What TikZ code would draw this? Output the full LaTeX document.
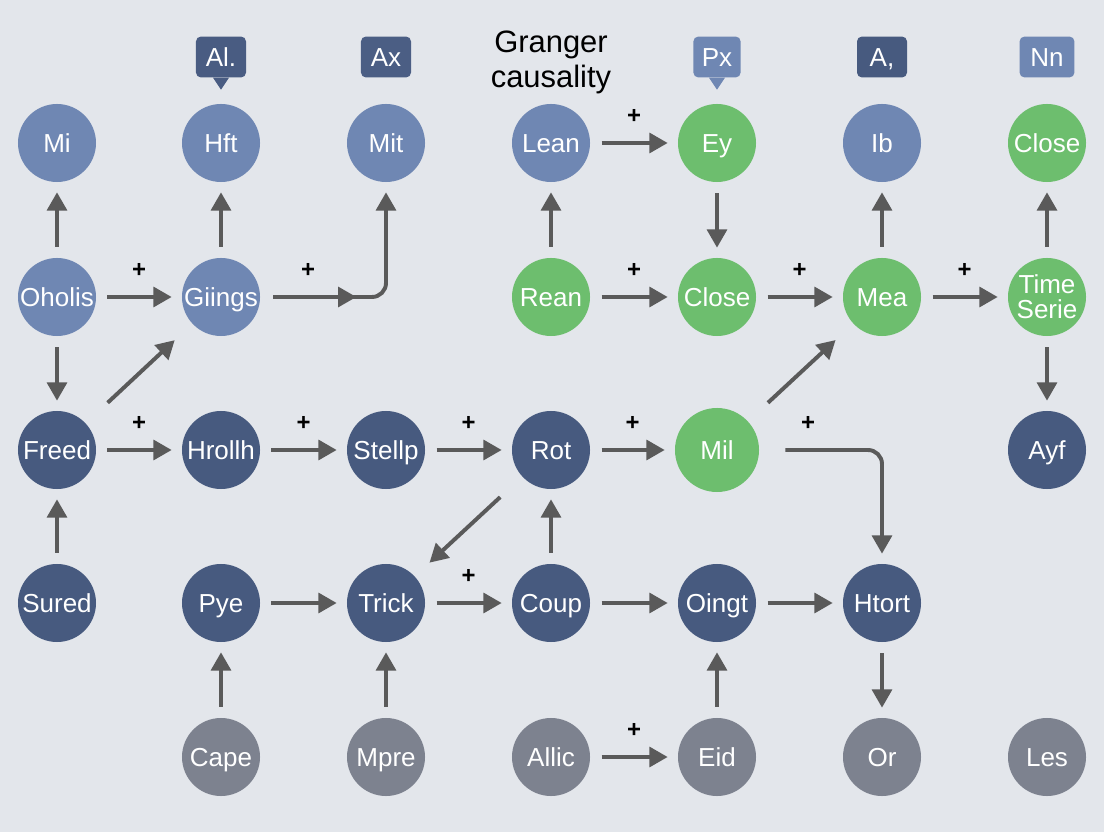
\documentclass[tikz,border=0pt]{standalone}
\usepackage{fontspec}
\setmainfont{Liberation Sans}
\usetikzlibrary{arrows.meta,positioning,decorations.markings}
\definecolor{bgcol}{HTML}{E3E6EB}
\definecolor{lightblue}{HTML}{6F87B3}
\definecolor{navy}{HTML}{475A7F}
\definecolor{leaf}{HTML}{6DBE6E}
\definecolor{stone}{HTML}{7D828F}
\definecolor{arrowgray}{HTML}{5A5A5A}
\tikzset{
  circbase/.style={circle,minimum size=1.95cm,inner sep=0pt,text=white,
    font=\fontsize{18.5}{20}\selectfont},
  circ/.style={circbase,text height=13.2pt,text depth=0pt},
  lightnode/.style={circ,fill=lightblue},
  navynode/.style={circ,fill=navy},
  greennode/.style={circ,fill=leaf},
  graynode/.style={circ,fill=stone},
  tag/.style={rounded corners=0.12cm,minimum width=1.25cm,minimum height=1.02cm,
    inner sep=2pt,text=white,font=\fontsize{18.5}{20}\selectfont,text height=13.2pt,text depth=0pt},
  flow/.style={-{Triangle[length=13pt,width=14pt]},line width=2.8pt,draw=arrowgray,
    shorten <=0.28cm,shorten >=0.25cm},
  diag/.style={flow,shorten <=0.75cm,shorten >=0.6cm},
  plus/.style={font=\fontsize{17}{17}\selectfont\bfseries,text=black,yshift=0.66cm}
}
\begin{document}
\begin{tikzpicture}[x=0.025cm,y=-0.025cm]
\fill[bgcol] (0,0) rectangle (1104,832);
\useasboundingbox (0,0) rectangle (1104,832);

% top labels
\node[tag,fill=navy!95!lightblue] (tagal) at (221,57) {Al.};
\fill[navy!95!lightblue] ([xshift=-0.2cm]tagal.south) -- ([xshift=0.2cm]tagal.south) -- ([yshift=-0.3cm]tagal.south) -- cycle;
\node[tag,fill=navy!90!lightblue] (tagax) at (386,57) {Ax};
\node[font=\fontsize{22}{25}\selectfont,align=center] (title) at (551,62) {Granger\\causality};
\node[tag,fill=lightblue,minimum width=1.18cm] (tagpx) at (717,57) {Px};
\fill[lightblue] ([xshift=-0.2cm]tagpx.south) -- ([xshift=0.2cm]tagpx.south) -- ([yshift=-0.3cm]tagpx.south) -- cycle;
\node[tag,fill=navy] (taga) at (882,57) {A,};
\node[tag,fill=lightblue,minimum width=1.37cm] (tagnn) at (1047,57) {Nn};

% row 1
\node[lightnode] (mi) at (57,143) {Mi};
\node[lightnode] (hft) at (221,143) {Hft};
\node[lightnode] (mit) at (386,143) {Mit};
\node[lightnode] (lean) at (551,143) {Lean};
\node[greennode] (ey) at (717,143) {Ey};
\node[lightnode] (ib) at (882,143) {Ib};
\node[greennode] (closea) at (1047,143) {Close};

% row 2
\node[lightnode] (oholis) at (57,297) {Oholis};
\node[lightnode] (giings) at (221,297) {Giings};
\node[greennode] (rean) at (551,297) {Rean};
\node[greennode] (closeb) at (717,297) {Close};
\node[greennode] (mea) at (882,297) {Mea};
\node[circbase,fill=leaf,align=center] (series) at (1047,297) {Time\\[-2pt]Serie};

% row 3
\node[navynode] (freed) at (57,450) {Freed};
\node[navynode] (hrollh) at (221,450) {Hrollh};
\node[navynode] (stellp) at (386,450) {Stellp};
\node[navynode] (rot) at (551,450) {Rot};
\node[greennode,minimum size=2.1cm] (mil) at (717,450) {Mil};
\node[navynode] (ayf) at (1047,450) {Ayf};

% row 4
\node[navynode] (sured) at (57,603) {Sured};
\node[navynode] (pye) at (221,603) {Pye};
\node[navynode] (trick) at (386,603) {Trick};
\node[navynode] (coup) at (551,603) {Coup};
\node[navynode] (oingt) at (717,603) {Oingt};
\node[navynode] (htort) at (882,603) {Htort};

% row 5
\node[graynode] (cape) at (221,757) {Cape};
\node[graynode] (mpre) at (386,757) {Mpre};
\node[graynode] (allic) at (551,757) {Allic};
\node[graynode] (eid) at (717,757) {Eid};
\node[graynode] (or) at (882,757) {Or};
\node[graynode] (les) at (1047,757) {Les};

% left block
\draw[flow] (oholis) -- (mi);
\draw[flow] (giings) -- (hft);
\draw[flow] (oholis) -- (giings) node[plus,midway] (p1) {+};
\draw[flow,rounded corners=0.35cm,shorten <=0.32cm,postaction={decorate},
  decoration={markings,mark=at position 0.41 with {\arrow{Triangle[length=13pt,width=14pt]}}}]
  (giings.east) -- (giings.east -| mit) -- (mit.south);
\node[plus] (p2) at (308,297) {+};
\draw[flow] (oholis) -- (freed);
\draw[diag] (freed) -- (giings);
\draw[flow] (sured) -- (freed);
\draw[flow] (freed) -- (hrollh) node[plus,midway] (p3) {+};
\draw[flow] (hrollh) -- (stellp) node[plus,midway] (p4) {+};
\draw[flow] (stellp) -- (rot) node[plus,midway] (p5) {+};
\draw[flow] (rot) -- (mil) node[plus,midway] (p6) {+};

% right block
\draw[flow] (lean) -- (ey) node[plus,midway] (p7) {+};
\draw[flow] (rean) -- (lean);
\draw[flow] (ey) -- (closeb);
\draw[flow] (rean) -- (closeb) node[plus,midway] (p8) {+};
\draw[flow] (closeb) -- (mea) node[plus,midway] (p9) {+};
\draw[flow] (mea) -- (ib);
\draw[flow] (mea) -- (series) node[plus,midway] (p10) {+};
\draw[flow] (series) -- (closea);
\draw[flow] (series) -- (ayf);
\draw[diag,shorten <=0.68cm] (mil) -- (mea);
\draw[flow,rounded corners=0.35cm,shorten <=0.65cm] (mil.east) -- (mil.east -| htort) -- (htort.north);
\node[plus] (p11) at (808,450) {+};

% bottom block
\draw[diag,shorten >=0.5cm] (rot) -- (trick);
\draw[flow] (pye) -- (trick);
\draw[flow] (trick) -- (coup) node[plus,midway] (p12) {+};
\draw[flow] (coup) -- (rot);
\draw[flow] (coup) -- (oingt);
\draw[flow] (oingt) -- (htort);
\draw[flow] (htort) -- (or);
\draw[flow] (cape) -- (pye);
\draw[flow] (mpre) -- (trick);
\draw[flow] (eid) -- (oingt);
\draw[flow] (allic) -- (eid) node[plus,midway] (p13) {+};
\end{tikzpicture}
\end{document}
